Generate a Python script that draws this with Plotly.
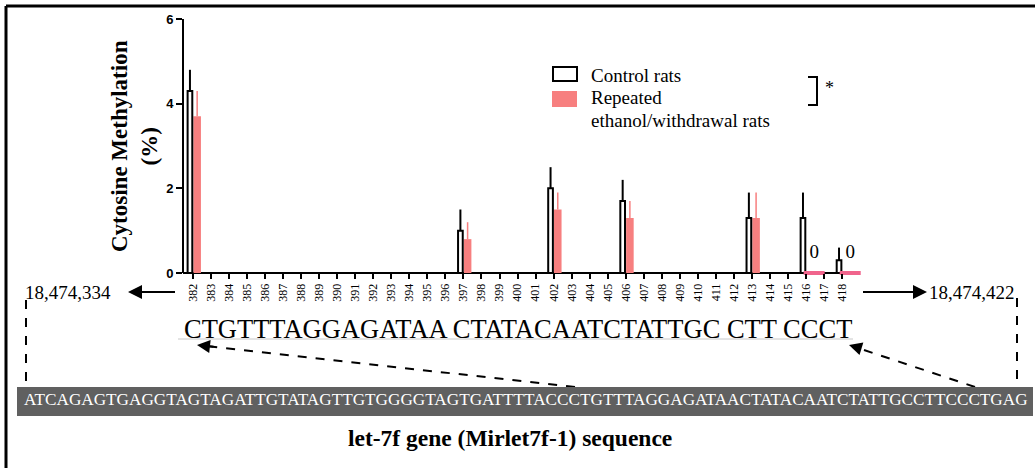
import plotly.graph_objects as go

# ---------------- data ----------------
site_ticks = list(range(382, 419))
control_sites = [382, 397, 402, 406, 413, 416, 418]
control_values = [4.3, 1.0, 2.0, 1.7, 1.3, 1.3, 0.3]
control_sem = [0.5, 0.5, 0.5, 0.5, 0.6, 0.6, 0.3]
ethanol_sites = [382, 397, 402, 406, 413]
ethanol_values = [3.7, 0.8, 1.5, 1.3, 1.3]
ethanol_sem = [0.6, 0.4, 0.4, 0.4, 0.6]
ethanol_zero_sites = [416, 418]
ethanol_zero_values = [0, 0]

left_coord = "18,474,334"
right_coord = "18,474,422"
short_seq = "CTGTTTAGGAGATAA CTATACAATCTATTGC CTT CCCT"
full_seq = "ATCAGAGTGAGGTAGTAGATTGTATAGTTGTGGGGTAGTGATTTTACCCTGTTTAGGAGATAACTATACAATCTATTGCCTTCCCTGAG"
caption = "let-7f gene (Mirlet7f-1) sequence"

# ---------------- style ----------------
PINK = "#F77F7F"
ZPINK = "#F0648C"
SERIF = "Liberation Serif"
SANS = "Liberation Sans"

W, H = 1035, 468
L, R, T, B = 184, 863, 19, 273  # plot area pixel bounds
SCALE = 18.03                    # px per site
X0 = 381.5
AXIS_END = 843                   # where the drawn x-axis line stops


def px(x):
    return (x - L) / (R - L)


def py(y):
    return (B - y) / (B - T)


fig = go.Figure()

fig.add_trace(go.Bar(
    x=ethanol_sites, y=ethanol_values, offset=0.02, width=0.42,
    marker=dict(color=PINK, line=dict(width=0)),
    error_y=dict(type="data", array=ethanol_sem, arrayminus=[0] * len(ethanol_sem),
                 symmetric=False, color=PINK, thickness=1.5, width=0),
    showlegend=False, name="Repeated ethanol/withdrawal rats"))

fig.add_trace(go.Bar(
    x=control_sites, y=control_values, offset=-0.30, width=0.26,
    marker=dict(color="white", line=dict(color="black", width=2)),
    error_y=dict(type="data", array=control_sem, arrayminus=[0] * len(control_sem),
                 symmetric=False, color="black", thickness=2, width=0),
    showlegend=False, name="Control rats"))

fig.add_trace(go.Scatter(
    x=[s + 0.45 for s in ethanol_zero_sites], y=ethanol_zero_values,
    mode="markers+text",
    marker=dict(symbol="line-ew", size=15, line=dict(width=4, color=ZPINK)),
    text=[str(v) for v in ethanol_zero_values], textposition="top center",
    textfont=dict(family=SERIF, size=19, color="black"),
    cliponaxis=False, showlegend=False))

fig.update_layout(
    width=W, height=H, autosize=False,
    margin=dict(l=L, r=W - R, t=T, b=H - B, pad=0),
    paper_bgcolor="white", plot_bgcolor="white",
    barmode="overlay", showlegend=False,
    xaxis=dict(range=[X0, X0 + (R - L) / SCALE], tickvals=site_ticks,
               ticktext=[str(t) for t in site_ticks], tickangle=-90,
               ticks="outside", ticklen=5, tickwidth=1.5, tickcolor="black",
               showline=False,
               showgrid=False, zeroline=False,
               tickfont=dict(family=SERIF, size=12, color="black")),
    yaxis=dict(range=[0, 6], tickvals=[0, 2, 4, 6],
               ticks="outside", ticklen=6, tickwidth=2, tickcolor="black",
               showline=True, linewidth=2, linecolor="black",
               showgrid=False, zeroline=False,
               tickfont=dict(family=SANS, size=13, color="black", weight="bold")),
)

shapes = []
ann = []


def line(x0, y0, x1, y1, width=2, color="black", dash="solid", layer="above"):
    shapes.append(dict(type="line", xref="paper", yref="paper", layer=layer,
                       x0=px(x0), y0=py(y0), x1=px(x1), y1=py(y1),
                       line=dict(color=color, width=width, dash=dash)))


def text(x, y, s, size, color="black", bold=False, xanchor="center", family=SERIF, angle=0):
    ann.append(dict(xref="paper", yref="paper", x=px(x), y=py(y), text=s,
                    showarrow=False, xanchor=xanchor, yanchor="middle", textangle=angle,
                    font=dict(family=family, size=size, color=color,
                              weight="bold" if bold else "normal")))


def arrow(hx, hy, ax, ay, head=2, size=1.3, width=2):
    ann.append(dict(xref="paper", yref="paper", x=px(hx), y=py(hy), text="",
                    showarrow=True, ax=ax, ay=ay, arrowhead=head, arrowsize=size,
                    arrowwidth=width, arrowcolor="black", standoff=0, startstandoff=0))


# x-axis baseline (stops just after the last site)
line(L - 1, B, AXIS_END, B, width=2, layer="below")

# outer border (left + top)
line(6, 6, 6, 468, width=3)
line(6, 6, 1035, 6, width=3)

# y-axis title
text(134, 146, "Cytosine Methylation<br>(%)", 23, bold=True, angle=-90)

# legend
shapes.append(dict(type="rect", xref="paper", yref="paper",
                   x0=px(553), x1=px(577), y0=py(67), y1=py(81),
                   line=dict(color="black", width=2), fillcolor="white"))
shapes.append(dict(type="rect", xref="paper", yref="paper",
                   x0=px(552), x1=px(577), y0=py(91), y1=py(107),
                   line=dict(color=PINK, width=0), fillcolor=PINK))
text(589, 75, "Control rats", 19, xanchor="left")
text(589, 97, "Repeated", 19, xanchor="left")
text(589, 121, "ethanol/withdrawal rats", 19, xanchor="left")
shapes.append(dict(type="path", xref="paper", yref="paper",
                   path=f"M {px(808)},{py(77)} L {px(817)},{py(77)} L {px(817)},{py(105)} L {px(808)},{py(105)}",
                   line=dict(color="black", width=2)))
text(829, 88, "*", 18)

# genomic coordinates with arrows
text(68, 292, left_coord, 19)
text(972, 292, right_coord, 19)
line(175, 292, 135, 292)
arrow(128, 292, 40, 0, head=2, size=1.4)
line(863, 292, 920, 292)
arrow(927, 292, -50, 0, head=2, size=1.4)

# sequence of analysed region
text(518, 329, short_seq, 26.5)
line(178, 339, 853, 339, width=1, color="#c8c8c8")

# dashed connectors
line(26, 300, 26, 387, dash="dash")
line(1017, 298, 1017, 387, dash="dash")
line(575, 387, 205, 346, dash="dash")
arrow(197, 345, 18, 2, head=2, size=1.3)
line(975, 387, 858, 348, dash="dash")
arrow(849, 345, 13, 4, head=2, size=1.3)

# full gene sequence bar
shapes.append(dict(type="rect", xref="paper", yref="paper",
                   x0=px(17), x1=px(1033), y0=py(387), y1=py(416),
                   line=dict(width=0), fillcolor="#606060"))
text(526, 399, full_seq, 17.2, color="white")

# caption
text(510, 438, caption, 23.5, bold=True)

fig.update_layout(shapes=shapes, annotations=ann)

fig.write_html("out.html", config={"displayModeBar": False},
               post_script="document.body.style.margin='0';")
